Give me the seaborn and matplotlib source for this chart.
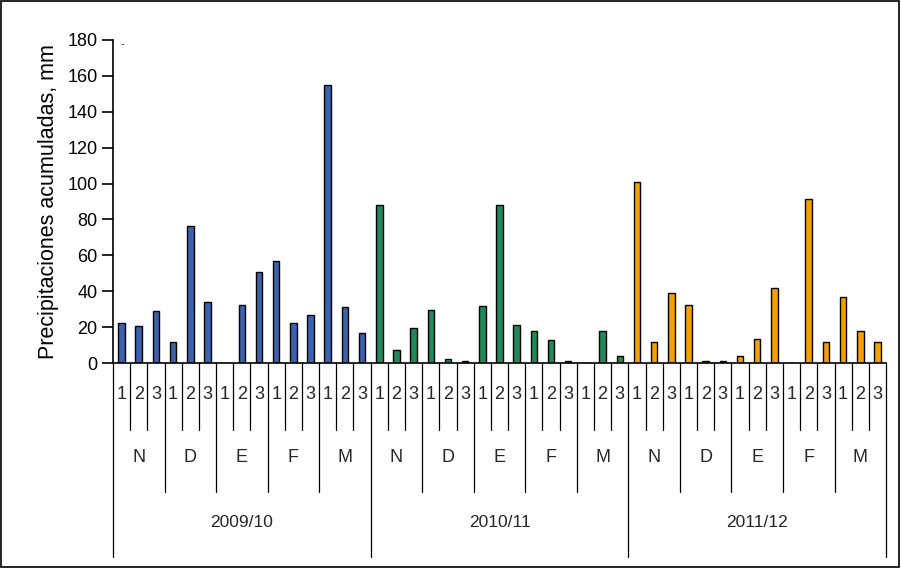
import numpy as np
import pandas as pd
import matplotlib.pyplot as plt
import seaborn as sns
from matplotlib.patches import Rectangle

sns.set_theme(style="white")
plt.rcParams['font.family'] = ['Liberation Sans', 'DejaVu Sans']

# data
seasons = ["2009/10", "2010/11", "2011/12"]
months = ["N", "D", "E", "F", "M"]
decades = ["1", "2", "3"]
colors = ["#3B62AC", "#21895A", "#F5A000"]

rain_0910 = [22.3, 20.8, 28.8, 11.7, 76.1, 33.9, 0, 32.5, 50.6, 56.6, 22.3, 26.5, 154.9, 31.2, 16.7]
rain_1011 = [87.9, 7.4, 19.3, 29.5, 2.2, 1.1, 31.5, 87.9, 21.2, 18.0, 13.0, 0.9, 0, 18.0, 3.7]
rain_1112 = [101.1, 11.5, 39.0, 32.5, 0.9, 0.9, 3.7, 13.2, 41.6, 0, 91.5, 11.5, 36.7, 18.0, 11.5]

rows = []
for s, vals in zip(seasons, [rain_0910, rain_1011, rain_1112]):
    for k, v in enumerate(vals):
        rows.append({"season": s, "month": months[k // 3], "decade": decades[k % 3], "mm": v})
df = pd.DataFrame(rows)
df["pos"] = np.arange(len(df))

fig = plt.figure(figsize=(9.01, 5.68), dpi=100)
ax = fig.add_axes([0.1254, 0.3609, 0.858, 0.5687])

sns.barplot(data=df, x="pos", y="mm", hue="season", palette=colors, dodge=False,
            saturation=1, width=0.38, edgecolor="black", linewidth=1, legend=False, ax=ax)

ax.set_xlim(-0.5, len(df) - 0.5)
ax.set_ylim(0, 180)
ax.set_yticks(np.arange(0, 181, 20))
ax.tick_params(axis="y", direction="out", length=8, width=1.2, color="black",
               left=True, labelsize=13, labelcolor="black", pad=3)
ax.set_xticks([])
ax.set_xlabel("")
ax.set_ylabel("Precipitaciones acumuladas, mm", fontsize=15.5, color="black", labelpad=6)
sns.despine(ax=ax)
for sp in ["left", "bottom"]:
    ax.spines[sp].set_color("black")
    ax.spines[sp].set_linewidth(1.2)

# hierarchical category axis
tr = ax.get_xaxis_transform()
n = len(df)
for b in range(n + 1):
    if b % 15 == 0:
        depth = -0.60
    elif b % 3 == 0:
        depth = -0.40
    else:
        depth = -0.207
    ax.plot([b - 0.5, b - 0.5], [0, depth], transform=tr, color="black", lw=0.9, clip_on=False)

for i, row in df.iterrows():
    ax.text(i, -0.099, row["decade"], transform=tr, ha="center", va="center", fontsize=13)
for m in range(n // 3):
    ax.text(m * 3 + 1, -0.291, months[m % 5], transform=tr, ha="center", va="center", fontsize=13)
for s in range(len(seasons)):
    ax.text(s * 15 + 7, -0.495, seasons[s], transform=tr, ha="center", va="center", fontsize=12.5)

fig.text(122 / 901, 1 - 44 / 568, "-", fontsize=8, ha="center", va="center")
fig.patches.append(Rectangle((0.001, 0.001), 0.997, 0.997, transform=fig.transFigure,
                             fill=False, edgecolor="black", lw=1.2))

fig.savefig("out.png", dpi=100)
